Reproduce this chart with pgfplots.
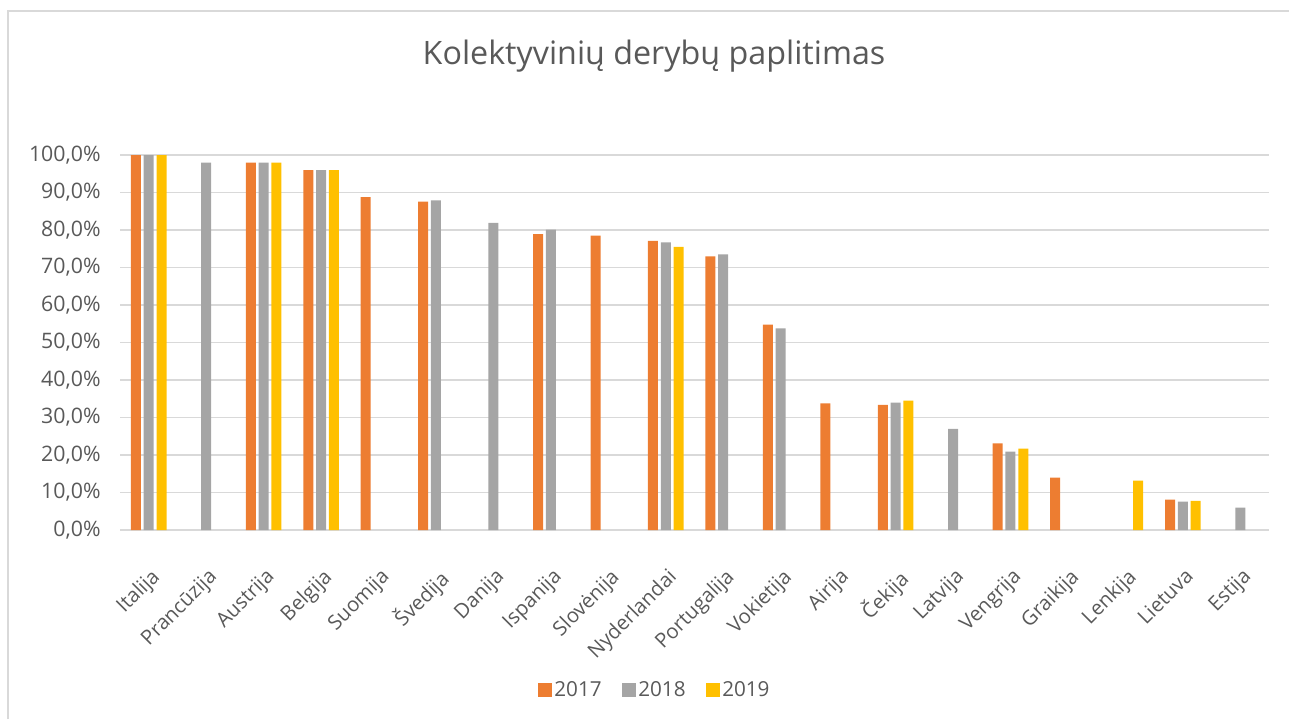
\documentclass[border=0pt]{standalone}
\usepackage{pgfplots}
\pgfplotsset{compat=1.18}
\usepackage{fontspec}
\setmainfont{Open Sans}
\definecolor{cA}{HTML}{ED7D31}
\definecolor{cB}{HTML}{A5A5A5}
\definecolor{cC}{HTML}{FFC000}
\definecolor{txt}{HTML}{595959}
\definecolor{grid}{HTML}{D9D9D9}
\begin{document}
\begin{tikzpicture}
\path[use as bounding box] (0,0) rectangle (966.75pt,-539.25pt);
\draw[grid, line width=0.9pt] (6pt,-539.25pt) -- (6pt,-8.25pt) -- (966.75pt,-8.25pt);
\node[anchor=base, text=txt, font=\fontsize{24.2}{28}\selectfont] at (490.5pt,-48pt) {Kolektyvinių derybų paplitimas};
\begin{axis}[
  at={(90pt,-397.5pt)}, anchor=south west,
  scale only axis, width=861.75pt, height=281.25pt,
  xmin=-0.5, xmax=19.5, ymin=0, ymax=100,
  ybar=2.1pt, bar width=7.5pt,
  axis line style={draw=none},
  axis x line*=bottom,
  x axis line style={draw=grid, line width=0.9pt},
  ymajorgrids, grid style={draw=grid, line width=0.9pt},
  major tick length=0pt,
  ytick={0,10,...,100},
  xtick={0,...,19},
  xticklabels={Italija,Prancūzija,Austrija,Belgija,Suomija,Švedija,Danija,Ispanija,Slovėnija,Nyderlandai,Portugalija,Vokietija,Airija,Čekija,Latvija,Vengrija,Graikija,Lenkija,Lietuva,Estija},
  /pgf/number format/assume math mode=true,
  yticklabel={\pgfmathprintnumber[fixed,fixed zerofill,precision=1,use comma]{\tick}\%},
  yticklabel style={text=txt, font=\fontsize{16}{19}\selectfont, xshift=-11pt},
  xticklabel style={text=txt, font=\fontsize{15.2}{18}\selectfont, rotate=45, anchor=north east, inner sep=0pt, yshift=-20pt, xshift=-19pt},
  legend style={at={(0.4656,-0.4267)}, anchor=center, draw=none, fill=none,
    legend columns=3, font=\fontsize{15.5}{18}\selectfont, text=txt,
    /tikz/every even column/.append style={column sep=13pt}},
  legend image code/.code={\fill[#1] (0pt,-5pt) rectangle (10.5pt,5.5pt);},
  clip=false,
]
\addplot[fill=cA, draw=none] coordinates {(0,100) (2,98) (3,96) (4,88.8) (5,87.6) (7,78.9) (8,78.5) (9,77.1) (10,73.0) (11,54.8) (12,33.8) (13,33.4) (15,23.1) (16,14.0) (18,8.1)};
\addplot[fill=cB, draw=none] coordinates {(0,100) (1,98) (2,98) (3,96) (5,87.9) (6,81.9) (7,80.1) (9,76.7) (10,73.5) (11,53.8) (13,34.0) (14,27.0) (15,20.9) (18,7.6) (19,6.0)};
\addplot[fill=cC, draw=none] coordinates {(0,100) (2,98) (3,96) (9,75.5) (13,34.5) (15,21.7) (17,13.2) (18,7.8)};
\legend{2017,2018,2019}
\end{axis}
\end{tikzpicture}
\end{document}
